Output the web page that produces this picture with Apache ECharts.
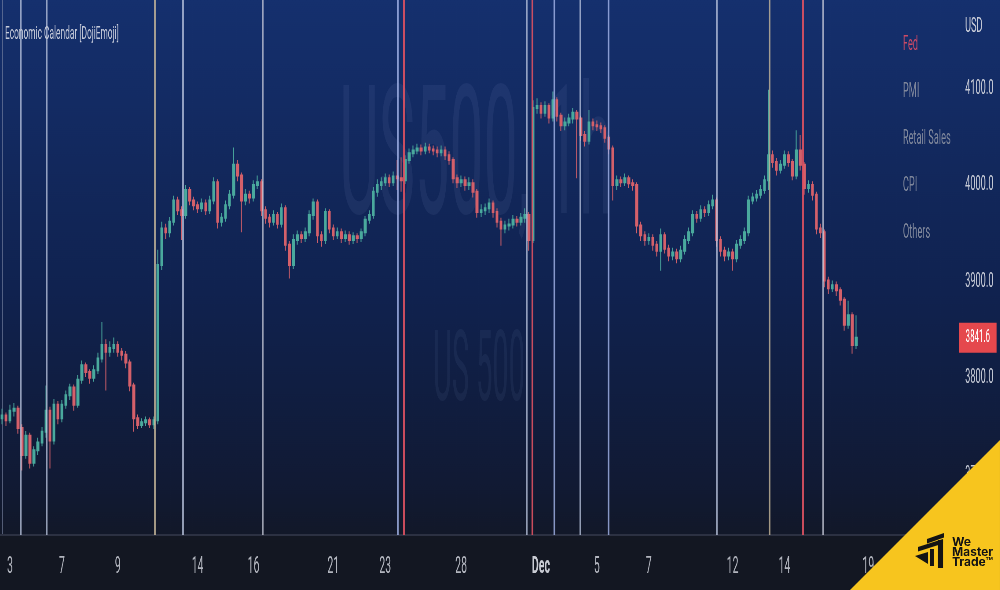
<!DOCTYPE html>
<html>
<head>
<meta charset="utf-8">
<title>US500 1h - Economic Calendar</title>
<script src="https://cdn.jsdelivr.net/npm/echarts@6/dist/echarts.min.js"></script>
<style>
  html, body { margin: 0; padding: 0; background: #131722; overflow: hidden; }
  /* the source screenshot is squeezed horizontally, so draw wide and squeeze */
  #chart { width: 2273px; height: 590px; transform: scaleX(0.44); transform-origin: 0 0; }
</style>
</head>
<body>
<div id="chart"></div>
<script>
// hourly candles, one slot per ~4px of the picture
const N = 240;
const firstOpen = 3758;
const closes = [
  3761, 3756, 3766, 3768, 3748, 3720, 3740, 3712, 3725, 3733, 3744, 3766, 3735, 3772, 3758, 3772, 3782, 3790, 3772, 3798,
  3813, 3806, 3800, 3808, 3820, 3834, 3827, 3831, 3834, 3827, 3824, 3816, 3792, 3758, 3751, 3754, 3756, 3752, 3756, 3917,
  3955, 3951, 3962, 3984, 3974, 3969, 3995, 3984, 3979, 3976, 3981, 3974, 3984, 4003, 3962, 3966, 3979, 3990, 4021, 4010,
  3984, 3990, 3987, 4000, 4003, 3974, 3966, 3962, 3969, 3960, 3976, 3938, 3917, 3943, 3948, 3945, 3951, 3969, 3982, 3948,
  3943, 3972, 3955, 3948, 3951, 3945, 3948, 3943, 3947, 3945, 3951, 3964, 3969, 3993, 4000, 4003, 4007, 4003, 4009, 4007,
  4005, 4026, 4033, 4036, 4038, 4036, 4039, 4037, 4036, 4034, 4036, 4031, 4026, 4007, 4003, 4005, 4000, 4002, 3993, 3972,
  3974, 3976, 3981, 3972, 3962, 3955, 3958, 3959, 3964, 3962, 3966, 3969, 3943, 4080, 4082, 4075, 4082, 4070, 4088, 4072,
  4062, 4065, 4069, 4075, 4069, 4052, 4046, 4065, 4062, 4061, 4059, 4049, 4038, 4000, 4005, 4003, 4007, 4002, 4000, 3958,
  3948, 3943, 3945, 3938, 3932, 3948, 3934, 3927, 3930, 3924, 3932, 3943, 3951, 3969, 3966, 3974, 3972, 3979, 3984, 3943,
  3932, 3927, 3930, 3924, 3938, 3943, 3951, 3984, 3987, 3990, 3995, 4005, 4031, 4024, 4016, 4021, 4031, 4024, 4010, 4036,
  4021, 3997, 4000, 3990, 3955, 3951, 3901, 3893, 3896, 3891, 3881, 3855, 3865, 3834, 3841.6
];
const highs = [
  3768, 3764, 3772, 3774, 3771, 3752, 3745, 3743, 3729, 3738, 3749, 3792, 3770, 3778, 3776, 3777, 3787, 3794, 3793, 3803,
  3818, 3816, 3809, 3813, 3826, 3858, 3840, 3838, 3842, 3838, 3831, 3828, 3819, 3795, 3762, 3758, 3760, 3759, 3760, 3933,
  3962, 3960, 3967, 3989, 3988, 3978, 4000, 3998, 3988, 3983, 3986, 3985, 3989, 4008, 4006, 3971, 3984, 3995, 4039, 4026,
  4013, 3996, 3994, 4005, 4010, 4006, 3978, 3970, 3974, 3972, 3981, 3979, 3942, 3949, 3953, 3952, 3956, 3974, 3986, 3985,
  3952, 3976, 3975, 3959, 3956, 3955, 3953, 3952, 3951, 3950, 3955, 3968, 3974, 3998, 4006, 4008, 4012, 4011, 4014, 4026,
  4029, 4031, 4038, 4041, 4043, 4042, 4044, 4043, 4041, 4040, 4041, 4040, 4035, 4029, 4011, 4010, 4009, 4008, 4006, 3996,
  3980, 3981, 3986, 3984, 3976, 3966, 3963, 3965, 3969, 3968, 3971, 3976, 3972, 4088, 4090, 4086, 4087, 4085, 4097, 4091,
  4075, 4070, 4074, 4080, 4078, 4072, 4056, 4078, 4069, 4067, 4065, 4062, 4052, 4041, 4010, 4009, 4012, 4010, 4006, 4003,
  3962, 3952, 3950, 3949, 3942, 3955, 3951, 3938, 3935, 3934, 3937, 3948, 3956, 3974, 3973, 3979, 3978, 3984, 3990, 3987,
  3947, 3936, 3935, 3934, 3943, 3948, 3956, 3989, 3992, 3995, 4000, 4010, 4099, 4036, 4028, 4026, 4036, 4035, 4027, 4057,
  4052, 4024, 4005, 4004, 3993, 3960, 3954, 3905, 3901, 3900, 3894, 3884, 3880, 3868, 3865
];
const lows = [
  3752, 3750, 3753, 3760, 3742, 3704, 3716, 3706, 3708, 3720, 3729, 3738, 3706, 3731, 3752, 3754, 3768, 3777, 3766, 3769,
  3794, 3801, 3794, 3796, 3804, 3816, 3787, 3822, 3826, 3822, 3818, 3810, 3786, 3744, 3747, 3748, 3750, 3748, 3747, 3752,
  3912, 3944, 3946, 3958, 3969, 3943, 3965, 3979, 3974, 3971, 3972, 3969, 3970, 3980, 3955, 3957, 3962, 3975, 3986, 4004,
  3951, 3979, 3981, 3983, 3996, 3968, 3960, 3956, 3958, 3955, 3956, 3932, 3903, 3913, 3938, 3940, 3941, 3947, 3964, 3940,
  3936, 3939, 3950, 3943, 3944, 3940, 3941, 3938, 3939, 3940, 3941, 3947, 3960, 3965, 3988, 3995, 3999, 3998, 3999, 3995,
  3993, 4001, 4022, 4029, 4032, 4031, 4032, 4033, 4031, 4029, 4030, 4026, 4021, 4002, 3997, 3998, 3994, 3995, 3987, 3966,
  3967, 3969, 3971, 3966, 3956, 3937, 3950, 3953, 3955, 3957, 3958, 3961, 3932, 3940, 4074, 4069, 4071, 4064, 4066, 4066,
  4056, 4057, 4061, 4064, 4007, 4046, 4040, 4042, 4057, 4056, 4054, 4044, 4032, 3984, 3995, 3998, 3999, 3997, 3994, 3950,
  3942, 3937, 3938, 3932, 3926, 3911, 3929, 3921, 3922, 3919, 3920, 3928, 3939, 3947, 3961, 3962, 3967, 3968, 3975, 3936,
  3926, 3921, 3922, 3911, 3920, 3934, 3939, 3947, 3980, 3983, 3986, 3991, 3995, 4018, 4010, 4012, 4017, 4019, 4005, 4006,
  4015, 3990, 3992, 3984, 3949, 3945, 3894, 3887, 3889, 3885, 3875, 3849, 3851, 3825, 3830
];

// date labels on the time axis (slot index -> text)
const labelIdx = [2, 15, 29, 49, 63, 83, 96, 115, 135, 149, 162, 183, 196, 217];
const labelText = ['3', '7', '9', '14', '16', '21', '23', '28', 'Dec', '5', '7', '12', '14', '19'];

// economic calendar events, in slot units
const fedEvents = [100.7, 132.8, 200.6];
const pmiEvents = [99.1, 138.3, 151.9];
const retailEvents = [65.3, 205.7];
const cpiEvents = [38.25, 192.2];
const otherEvents = [4.68, 11.2, 45.27, 131.4, 144.8, 179.0];

const yMin = 3637;
const yMax = 4192;

const SQ = 0.44;
const wx = px => px / SQ;

const cats = Array.from({ length: N }, (_, i) => String(i));
const candles = closes.map((c, i) => [i === 0 ? firstOpen : closes[i - 1], c, lows[i], highs[i]]);
const lastClose = closes[closes.length - 1];

const UP = '#4aa99d';
const DOWN = '#d4606a';

function eventSeries(name, positions, color, width) {
  return {
    type: 'line',
    name: name,
    xAxisIndex: 1,
    data: [],
    symbol: 'none',
    silent: true,
    markLine: {
      symbol: ['none', 'none'],
      silent: true,
      animation: false,
      label: { show: false },
      lineStyle: { color: color, width: width, type: 'solid' },
      emphasis: { disabled: true },
      data: positions.map(v => ({ xAxis: v }))
    }
  };
}

const chart = echarts.init(document.getElementById('chart'), null, { renderer: 'canvas', width: 2273, height: 590 });

chart.setOption({
  animation: false,
  backgroundColor: {
    type: 'linear', x: 0, y: 0, x2: 0, y2: 1,
    colorStops: [
      { offset: 0, color: '#15306e' },
      { offset: 0.5, color: '#10224f' },
      { offset: 0.82, color: '#111a34' },
      { offset: 0.905, color: '#121829' },
      { offset: 0.908, color: '#131722' },
      { offset: 1, color: '#131722' }
    ]
  },
  grid: { left: 0, right: wx(42), top: 0, bottom: 55, outerBoundsMode: 'none' },
  legend: {
    orient: 'vertical',
    left: wx(900.7) - 5,
    top: 29,
    icon: 'none',
    itemWidth: 0,
    itemHeight: 21,
    itemGap: 26,
    selectedMode: false,
    textStyle: { fontSize: 21, fontFamily: 'Roboto', color: '#7f879b' },
    data: [
      { name: 'Fed', textStyle: { color: '#cc4a66' } },
      'PMI', 'Retail Sales', 'CPI', 'Others'
    ]
  },
  xAxis: [
    {
      type: 'category',
      data: cats,
      boundaryGap: true,
      axisLine: { lineStyle: { color: '#2c3142', width: 2 } },
      axisTick: { show: false },
      splitLine: { show: false },
      axisLabel: {
        interval: i => labelIdx.includes(i),
        formatter: v => {
          const k = labelIdx.indexOf(Number(v));
          if (k < 0) return '';
          return labelText[k] === 'Dec' ? '{b|Dec}' : labelText[k];
        },
        color: '#b2b5be',
        fontSize: 24,
        fontFamily: 'Roboto',
        margin: 20,
        rich: { b: { fontSize: 24, fontFamily: 'Roboto', fontWeight: 'bold', color: '#c9ccd4' } }
      }
    },
    { type: 'value', min: -0.5, max: N - 0.5, show: false }
  ],
  yAxis: {
    type: 'value',
    position: 'right',
    min: yMin,
    max: yMax,
    axisLine: { show: true, lineStyle: { color: 'rgba(125,135,165,0.7)', width: 2 } },
    axisTick: { show: false },
    splitLine: { show: false },
    axisLabel: {
      color: '#c5c9d5',
      fontSize: 21,
      fontFamily: 'Roboto',
      margin: wx(7),
      formatter: v => (v % 100 === 0 ? v.toFixed(1) : '')
    }
  },
  graphic: [
    {
      type: 'text', x: wx(476), y: 168, scaleX: 0.77, z: 0, silent: true,
      style: { text: 'US500, 1h', fontSize: 180, fontFamily: 'Roboto', fill: 'rgba(160,180,230,0.08)',
        align: 'center', verticalAlign: 'middle', textAlign: 'center', textVerticalAlign: 'middle' }
    },
    {
      type: 'text', x: wx(479), y: 375, scaleX: 0.67, z: 0, silent: true,
      style: { text: 'US 500', fontSize: 98, fontFamily: 'Roboto', fill: 'rgba(160,180,230,0.07)',
        align: 'center', verticalAlign: 'middle', textAlign: 'center', textVerticalAlign: 'middle' }
    },
    {
      type: 'text', x: wx(5), y: 34, z: 10, silent: true,
      style: { text: 'Economic Calendar [DojiEmoji]', fontSize: 19, fontFamily: 'Roboto', fill: '#c6cbda',
        verticalAlign: 'middle', textVerticalAlign: 'middle' }
    },
    {
      type: 'text', x: wx(965), y: 27, z: 10, silent: true,
      style: { text: 'USD', fontSize: 21, fontFamily: 'Roboto', fill: '#c8ccd8',
        verticalAlign: 'middle', textVerticalAlign: 'middle' }
    },
    {
      type: 'polygon', z: 100, silent: true,
      shape: { points: [[wx(850), 590], [wx(1000), 440], [wx(1000), 590]] },
      style: { fill: '#f7c51e' }
    },
    {
      type: 'group', x: 0, y: 0, scaleX: 1 / SQ, silent: true,
      children: [
        { type: 'polygon', z: 101, shape: { points: [[927, 539], [944, 533], [944, 537.5], [927, 543.5]] }, style: { fill: '#141414' } },
        { type: 'polygon', z: 101, shape: { points: [[918, 547], [943, 539], [943, 543.5], [918, 551.5]] }, style: { fill: '#141414' } },
        { type: 'rect', z: 101, shape: { x: 938, y: 540, width: 5, height: 28 }, style: { fill: '#141414' } },
        { type: 'rect', z: 101, shape: { x: 930, y: 549, width: 4, height: 17 }, style: { fill: '#141414' } },
        { type: 'polygon', z: 101, shape: { points: [[915, 556], [928, 552], [928, 564]] }, style: { fill: '#141414' } },
        { type: 'text', z: 101, x: 952, y: 542, style: { text: 'We', fontSize: 12, fontWeight: 'bold', fontFamily: 'Inter', fill: '#141414', verticalAlign: 'middle', textVerticalAlign: 'middle' } },
        { type: 'text', z: 101, x: 952, y: 552, style: { text: 'Master', fontSize: 12, fontWeight: 'bold', fontFamily: 'Inter', fill: '#141414', verticalAlign: 'middle', textVerticalAlign: 'middle' } },
        { type: 'text', z: 101, x: 952, y: 562, style: { text: 'Trade\u2122', fontSize: 12, fontWeight: 'bold', fontFamily: 'Inter', fill: '#141414', verticalAlign: 'middle', textVerticalAlign: 'middle' } }
      ]
    }
  ],
  series: [
    {
      type: 'candlestick',
      name: 'US500',
      data: candles,
      barWidth: 5,
      z: 3,
      itemStyle: { color: UP, color0: DOWN, borderColor: UP, borderColor0: DOWN, borderWidth: 2 },
      markLine: {
        symbol: ['none', 'none'],
        silent: true,
        animation: false,
        lineStyle: { color: 'rgba(0,0,0,0)', width: 1 },
        label: {
          position: 'end',
          distance: 2,
          formatter: lastClose.toFixed(1),
          backgroundColor: '#e5484d',
          color: '#ffffff',
          padding: [6, 15],
          fontSize: 18,
          fontFamily: 'Roboto'
        },
        data: [{ yAxis: lastClose }]
      }
    },
    eventSeries('Fed', fedEvents, 'rgba(222,82,98,0.9)', 4),
    eventSeries('PMI', pmiEvents, 'rgba(165,182,235,0.8)', 4),
    eventSeries('Retail Sales', retailEvents, 'rgba(200,203,218,0.75)', 4),
    eventSeries('CPI', cpiEvents, 'rgba(200,185,155,0.8)', 4),
    eventSeries('Others', otherEvents, 'rgba(190,200,225,0.75)', 4)
  ]
});
</script>
</body>
</html>
